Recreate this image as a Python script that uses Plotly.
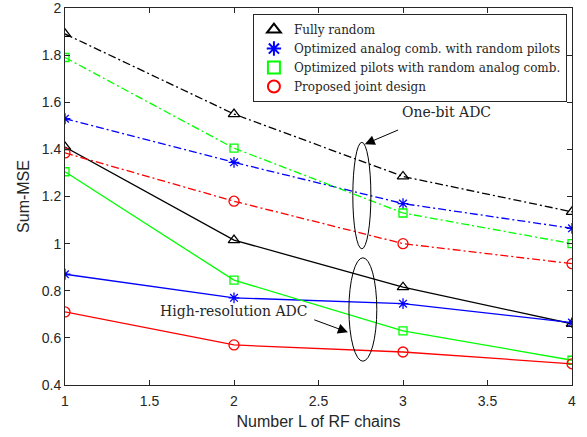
import plotly.graph_objects as go

L = [1, 2, 3, 4]

# One-bit ADC (dash-dot)
fully_random_1bit = [1.89, 1.55, 1.285, 1.135]
opt_comb_1bit = [1.53, 1.345, 1.17, 1.065]
opt_pilots_1bit = [1.79, 1.405, 1.13, 1.0]
proposed_1bit = [1.385, 1.18, 1.0, 0.915]

# High-resolution ADC (solid)
fully_random_hr = [1.41, 1.015, 0.815, 0.66]
opt_comb_hr = [0.87, 0.77, 0.745, 0.665]
opt_pilots_hr = [1.305, 0.845, 0.63, 0.505]
proposed_hr = [0.71, 0.57, 0.54, 0.49]

x_ticks = [1, 1.5, 2, 2.5, 3, 3.5, 4]
x_ticktext = ["1", "1.5", "2", "2.5", "3", "3.5", "4"]
y_ticks = [0.4, 0.6, 0.8, 1.0, 1.2, 1.4, 1.6, 1.8, 2.0]
y_ticktext = ["0.4", "0.6", "0.8", "1", "1.2", "1.4", "1.6", "1.8", "2"]

names = ["Fully random",
         "Optimized analog comb. with random pilots",
         "Optimized pilots with random analog comb.",
         "Proposed joint design"]
colors = ["black", "#0000ff", "#00ff00", "#ff0000"]
symbols = ["triangle-up-open", "asterisk-open", "square-open", "circle-open"]
sizes = [10, 9, 8, 10]

one_bit = [fully_random_1bit, opt_comb_1bit, opt_pilots_1bit, proposed_1bit]
high_res = [fully_random_hr, opt_comb_hr, opt_pilots_hr, proposed_hr]

fig = go.Figure()
dashdot = "8px,3px,2px,3px"
for i in range(4):
    for ys, dash in ((one_bit[i], dashdot), (high_res[i], "solid")):
        fig.add_trace(go.Scatter(
            x=L, y=ys, mode="lines+markers", showlegend=False,
            line=dict(color=colors[i], width=1.3, dash=dash),
            marker=dict(symbol=symbols[i], size=sizes[i], color=colors[i],
                        line=dict(color=colors[i], width=1.3)),
        ))
for i in range(4):
    fig.add_trace(go.Scatter(
        x=[None], y=[None], mode="markers", name=names[i],
        marker=dict(symbol=symbols[i], size=sizes[i], color=colors[i],
                    line=dict(color=colors[i], width=1.5)),
    ))

# Ellipses
fig.add_shape(type="circle", xref="x", yref="y", x0=2.703, x1=2.810, y0=0.978, y1=1.430,
              line=dict(color="black", width=1))
fig.add_shape(type="circle", xref="x", yref="y", x0=2.680, x1=2.845, y0=0.501, y1=0.940,
              line=dict(color="black", width=1))

serif = "DejaVu Serif"
fig.add_annotation(x=2.774, y=1.422, ax=2.98, ay=1.485, xref="x", yref="y", axref="x", ayref="y",
                   text="", showarrow=True, arrowhead=2, arrowsize=2, arrowwidth=1, arrowcolor="black")
fig.add_annotation(x=3.26, y=1.557, xref="x", yref="y", text="One-bit ADC", showarrow=False,
                   font=dict(family=serif, size=14, color="#262626"))
fig.add_annotation(x=2.674, y=0.624, ax=2.466, ay=0.679, xref="x", yref="y", axref="x", ayref="y",
                   text="", showarrow=True, arrowhead=2, arrowsize=2, arrowwidth=1, arrowcolor="black")
fig.add_annotation(x=1.998, y=0.712, xref="x", yref="y", text="High-resolution ADC", showarrow=False,
                   font=dict(family=serif, size=14, color="#262626"))

axis_common = dict(showline=True, linecolor="#262626", linewidth=1, mirror="allticks",
                   ticks="inside", ticklen=5, tickcolor="#262626", showgrid=False, zeroline=False,
                   ticklabeloverflow="allow", automargin=False)
fig.update_xaxes(range=[1, 4], tickmode="array", tickvals=x_ticks, ticktext=x_ticktext,
                 ticklabelstandoff=3, tickfont=dict(family="Liberation Sans", size=14, color="#262626"),
                 **axis_common,
                 title=dict(text="Number L of RF chains", standoff=8,
                            font=dict(family="Liberation Sans", size=16, color="#262626")))
fig.update_yaxes(range=[0.4, 2], tickmode="array", tickvals=y_ticks, ticktext=y_ticktext,
                 tickfont=dict(family="Liberation Sans", size=14, color="#262626"),
                 **axis_common,
                 title=dict(text="Sum-MSE", standoff=8,
                            font=dict(family="Liberation Sans", size=16, color="#262626")))

fig.update_layout(
    width=587, height=437,
    margin=dict(l=65, r=15, t=8, b=52),
    plot_bgcolor="white", paper_bgcolor="white",
    legend=dict(x=0.99, y=0.984, xanchor="right", yanchor="top",
                bgcolor="white", bordercolor="#262626", borderwidth=1,
                font=dict(family=serif, size=12, color="#262626"),
                tracegroupgap=0, itemsizing="constant"),
)

fig.write_html("out.html")
